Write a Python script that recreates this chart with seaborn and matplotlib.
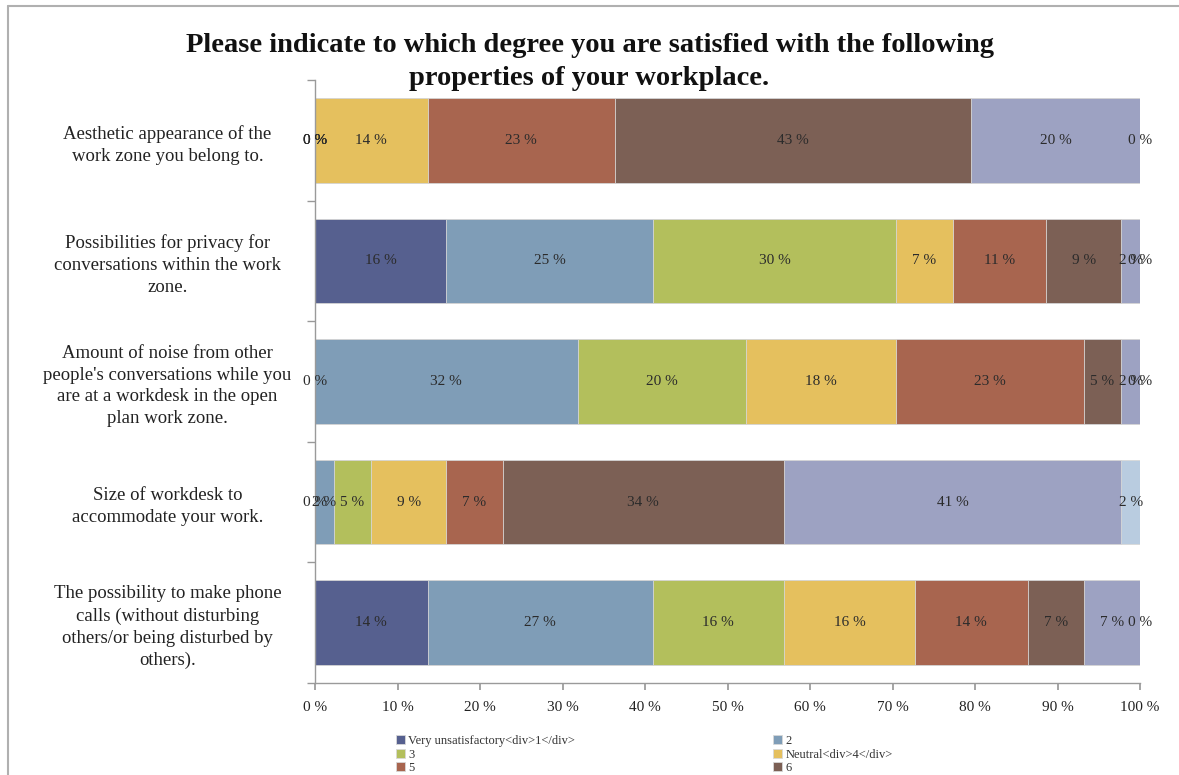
import math
import matplotlib
matplotlib.use("Agg")
import matplotlib.pyplot as plt
import seaborn as sns
import pandas as pd
from matplotlib.lines import Line2D

# ---------------- data ----------------
title = ("Please indicate to which degree you are satisfied with the following\n"
         "properties of your workplace.")
questions = [
    "Aesthetic appearance of the\nwork zone you belong to.",
    "Possibilities for privacy for\nconversations within the work\nzone.",
    "Amount of noise from other\npeople's conversations while you\nare at a workdesk in the open\nplan work zone.",
    "Size of workdesk to\naccommodate your work.",
    "The possibility to make phone\ncalls (without disturbing\nothers/or being disturbed by\nothers).",
]
levels = ["Very unsatisfactory<div>1</div>", "2", "3", "Neutral<div>4</div>",
          "5", "6", "7", "8"]
aesthetic = [0.0, 0.0, 0.0, 13.64, 22.73, 43.18, 20.45, 0.0]
privacy = [15.91, 25.0, 29.55, 6.82, 11.36, 9.09, 2.27, 0.0]
noise = [0.0, 31.82, 20.45, 18.18, 22.73, 4.55, 2.27, 0.0]
desk = [0.0, 2.27, 4.55, 9.09, 6.82, 34.09, 40.91, 2.27]
phone = [13.64, 27.27, 15.91, 15.91, 13.64, 6.82, 6.82, 0.0]
xticks = [0, 10, 20, 30, 40, 50, 60, 70, 80, 90, 100]
xticklabels = [f"{t} %" for t in xticks]

colors = ["#56608f", "#7f9db7", "#b3bf5c", "#e5c05e",
          "#a8654f", "#7c6055", "#9da2c2", "#b9cce0"]

rows = [aesthetic, privacy, noise, desk, phone]
df = pd.DataFrame(rows, columns=levels)
df["question"] = questions
cum = df[levels].cumsum(axis=1)

# ---------------- style ----------------
sns.set_theme(style="white")
plt.rcParams["font.family"] = ["Liberation Serif", "DejaVu Serif"]

fig = plt.figure(figsize=(11.79, 7.75), dpi=100)
ax = fig.add_axes([315 / 1179, 1 - 683 / 775, 825 / 1179, 603 / 775])

# stacked bars: draw cumulative totals from the last level back to the first
for k in reversed(range(len(levels))):
    sns.barplot(x=cum[levels[k]], y=df["question"], color=colors[k],
                saturation=1, width=0.70, orient="h", ax=ax,
                edgecolor="#d8d8d8", linewidth=0.6, label=levels[k])
if ax.get_legend() is not None:
    ax.get_legend().remove()

# value labels
for i in range(len(questions)):
    left = 0.0
    for k, lev in enumerate(levels):
        v = df.loc[i, lev]
        ax.text(left + v / 2, i, f"{int(math.floor(v + 0.5))} %",
                ha="center", va="center", fontsize=11, color="#2b2b2b")
        left += v

ax.set_xlim(0, 100)
ax.set_ylim(len(questions) - 0.5, -0.5)
ax.set_xticks(xticks)
ax.set_xticklabels(xticklabels, fontsize=11, color="#222222")
ax.set_xlabel("")
ax.set_ylabel("")
ax.set_yticks(range(len(questions)))
ax.set_yticklabels(questions, fontsize=13.5, color="#222222",
                   multialignment="center", linespacing=1.38)
ax.set_yticks([i - 0.5 for i in range(len(questions) + 1)], minor=True)
ax.tick_params(axis="y", which="major", length=0)
ax.tick_params(axis="y", which="minor", length=6, color="#999999",
               direction="out", left=True)
ax.tick_params(axis="x", which="major", length=5, color="#999999",
               direction="out", bottom=True, pad=8)
for lab in ax.get_yticklabels():
    lab.set_horizontalalignment("center")
    lab.set_x(-0.173)
for s in ["top", "right"]:
    ax.spines[s].set_visible(False)
for s in ["left", "bottom"]:
    ax.spines[s].set_color("#9a9a9a")
    ax.spines[s].set_linewidth(1)

fig.text(0.5, 1 - 62 / 775, title, ha="center", va="center",
         fontsize=20.5, fontweight="bold", color="#111111", linespacing=1.42)

# legend (two columns, row-major order; bottom row cut off by the figure edge)
handles, labels = ax.get_legend_handles_labels()
hmap = {lab: h for h, lab in zip(handles, labels)}
order = [0, 2, 4, 6, 1, 3, 5, 7]
hs = [hmap[levels[j]] for j in order]
ls = [levels[j] for j in order]
leg = fig.legend(hs, ls, ncol=2, loc="upper left",
                 bbox_to_anchor=(396 / 1179, 1 - 735 / 775), frameon=False,
                 fontsize=9, handlelength=0.7, handleheight=0.7,
                 handletextpad=0.3, columnspacing=15.8, labelspacing=0.12,
                 borderpad=0, borderaxespad=0)
for t in leg.get_texts():
    t.set_color("#333333")

# light border of the chart area
fig.add_artist(Line2D([8 / 1179, 1], [1 - 6 / 775, 1 - 6 / 775],
                      transform=fig.transFigure, color="#b0b0b0", lw=1.5))
fig.add_artist(Line2D([8 / 1179, 8 / 1179], [0, 1 - 6 / 775],
                      transform=fig.transFigure, color="#b0b0b0", lw=1.5))

fig.savefig("out.png", dpi=100)
